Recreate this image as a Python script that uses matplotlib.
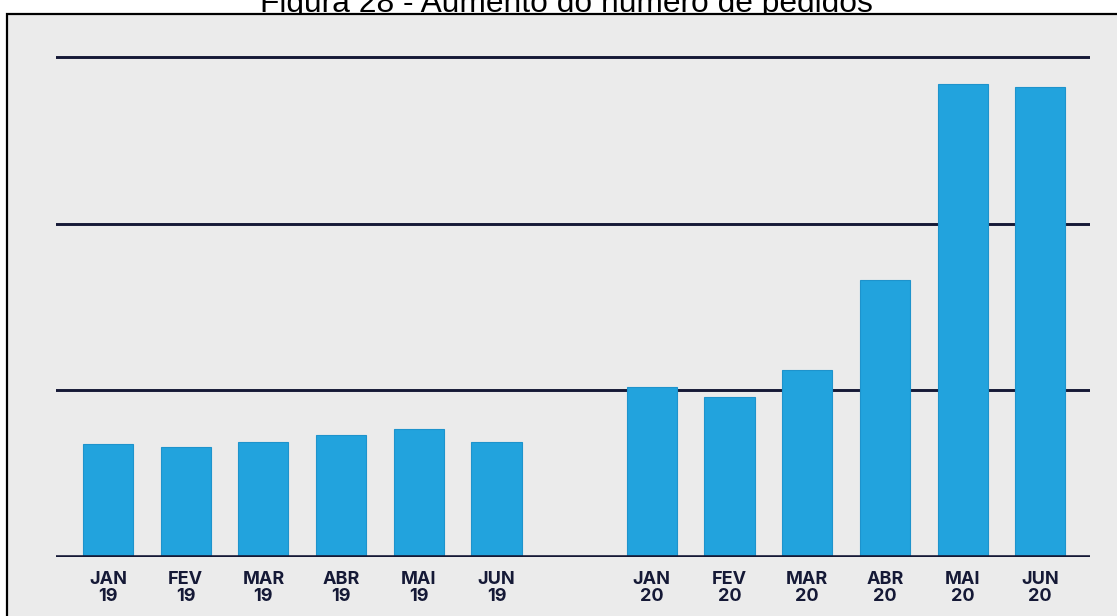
import matplotlib.pyplot as plt
from matplotlib.patches import Rectangle

# monthly orders, Jan-Jun 2019 vs Jan-Jun 2020 (relative scale)
months = ["JAN", "FEV", "MAR", "ABR", "MAI", "JUN"]
orders_2019 = [68, 66, 69, 73, 77, 69]
orders_2020 = [102, 96, 112, 166, 284, 282]
grid_levels = [100, 200, 300]

BAR_COLOR = "#22a3dd"
LINE_COLOR = "#151936"

labels = [f"{m}\n19" for m in months] + [f"{m}\n20" for m in months]
values = orders_2019 + orders_2020
# leave one empty slot between the two years
xpos = list(range(6)) + list(range(7, 13))

fig = plt.figure(figsize=(11.17, 6.16), dpi=100)
fig.patch.set_facecolor("white")

# grey panel with a black border on the left and top
W, H = 1117, 616
panel = Rectangle((7 / W, -0.05), 1.2, (H - 14) / H + 0.05, transform=fig.transFigure,
                  facecolor="#ebebeb", edgecolor="black", linewidth=1.6, zorder=-1)
fig.patches.append(panel)

# caption sits behind the panel so its descenders are hidden
fig.text(0.507, 1 - 12 / H, "Figura 28 - Aumento do número de pedidos",
         ha="center", va="baseline", fontsize=22.9, family="Liberation Sans",
         color="black", zorder=-2)

ax = fig.add_axes([56 / W, (H - 557) / H, (1090 - 56) / W, 310 * 1.667 / H])
ax.set_zorder(1)
ax.set_facecolor("none")
for s in ax.spines.values():
    s.set_visible(False)

for lvl in grid_levels:
    ax.axhline(lvl, color=LINE_COLOR, linewidth=2.1, zorder=1)
ax.axhline(0, color=LINE_COLOR, linewidth=2.6, zorder=3)

ax.bar(xpos, values, width=0.645, color=BAR_COLOR, edgecolor="#1e93cc",
       linewidth=0.8, zorder=2)

ax.set_xlim(-0.67, 12.64)
ax.set_ylim(0, 310)
ax.set_yticks([])
ax.set_xticks(xpos)
ax.set_xticklabels(labels, fontsize=13, family="Inter", fontweight="bold",
                   color=LINE_COLOR, linespacing=1.0)
ax.tick_params(axis="x", length=0, pad=10)

fig.savefig("out.png", dpi=100)
